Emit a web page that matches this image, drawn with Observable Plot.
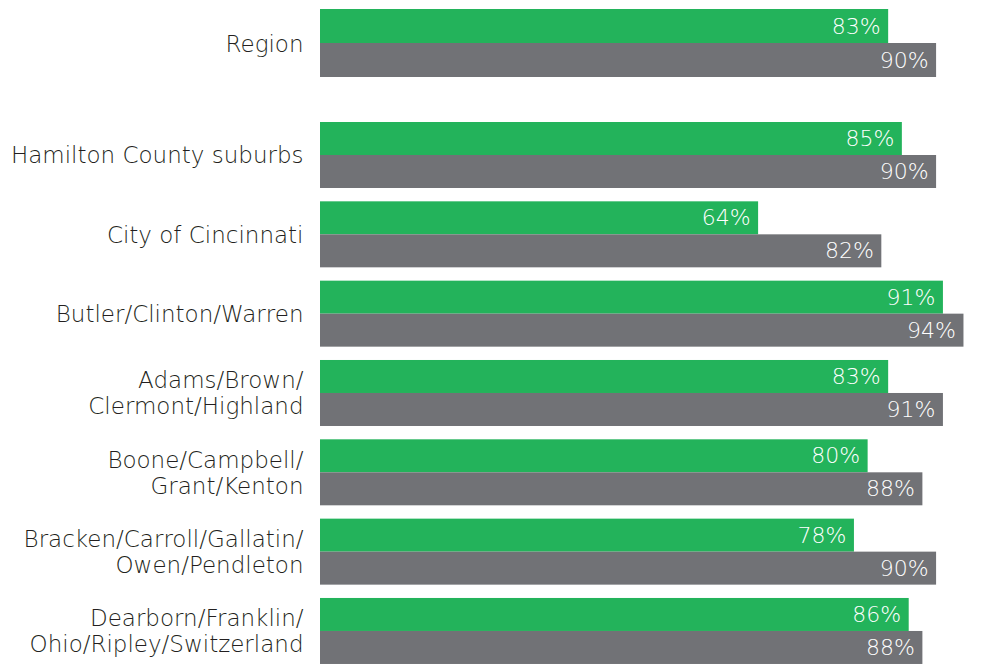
<!DOCTYPE html>
<html><head><meta charset="utf-8">
<script src="https://cdn.jsdelivr.net/npm/d3@7"></script>
<script src="https://cdn.jsdelivr.net/npm/@observablehq/plot@0.6"></script>
<style>
body{margin:0;background:#fff}
#chart{width:990px}
#chart svg{display:block}
</style>
</head><body><div id="chart"></div>
<script>
const categories = ["Region", "Hamilton County suburbs", "City of Cincinnati", "Butler/Clinton/Warren", "Adams/Brown/Clermont/Highland", "Boone/Campbell/Grant/Kenton", "Bracken/Carroll/Gallatin/Owen/Pendleton", "Dearborn/Franklin/Ohio/Ripley/Switzerland"];
const tickLabels = ["Region", "Hamilton County suburbs", "City of Cincinnati", "Butler/Clinton/Warren", "Adams/Brown/\nClermont/Highland", "Boone/Campbell/\nGrant/Kenton", "Bracken/Carroll/Gallatin/\nOwen/Pendleton", "Dearborn/Franklin/\nOhio/Ripley/Switzerland"];
const series = ["Series 1", "Series 2"];
const series1Values = [83, 85, 64, 91, 83, 80, 78, 86];
const series2Values = [90, 90, 82, 94, 91, 88, 90, 88];
const colors = ["#23b35b", "#717276"];

const rows = [];
categories.forEach((c, i) => {
  rows.push({category: c, series: series[0], value: series1Values[i]});
  rows.push({category: c, series: series[1], value: series2Values[i]});
});
const labelOf = new Map(categories.map((c, i) => [c, tickLabels[i]]));

function makePlot(cats, height, marginTop, marginBottom, paddingInner) {
  const data = rows.filter(d => cats.includes(d.category));
  return Plot.plot({
    width: 990,
    height,
    marginLeft: 320,
    marginRight: 6,
    marginTop,
    marginBottom,
    style: {fontFamily: "DejaVu Sans", background: "white"},
    x: {domain: [0, 97], axis: null},
    y: {domain: series, padding: 0, axis: null},
    fy: {domain: cats, paddingInner, paddingOuter: 0, axis: null, round: false},
    color: {domain: series, range: colors},
    marks: [
      Plot.barX(data, {fy: "category", y: "series", x: "value", fill: "series"}),
      Plot.text(data, {fy: "category", y: "series", x: "value", text: d => d.value + "%", textAnchor: "end", dx: -8, fill: "white", fontSize: 22, fontWeight: 200}),
      Plot.text(cats, {fy: d => d, x: 0, text: d => labelOf.get(d), textAnchor: "end", dx: -17, fill: "#231f20", fontSize: 23, fontWeight: 200, lineHeight: 1.13})
    ]
  });
}

const el = document.getElementById("chart");
el.append(makePlot(categories.slice(0, 1), 86, 9, 9, 0));
el.append(makePlot(categories.slice(1), 578, 35, 0, 0.155));
</script>
</body></html>
